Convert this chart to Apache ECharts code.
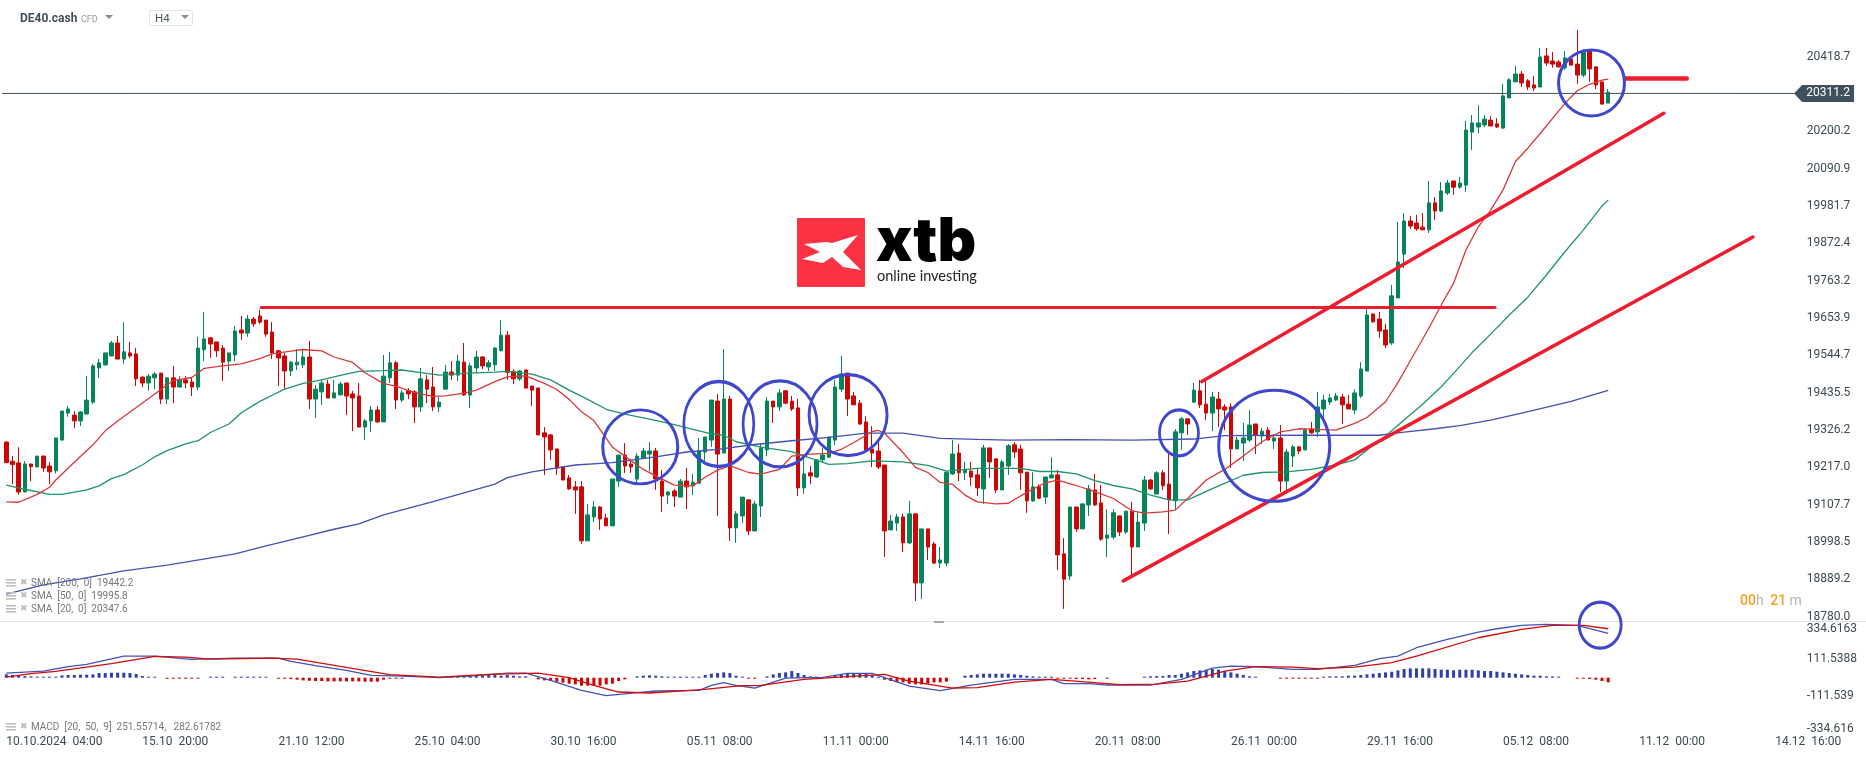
<!DOCTYPE html>
<html lang="en">
<head>
    <meta charset="UTF-8">
    <title>DE40.cash H4</title>
    <script src="https://cdn.jsdelivr.net/npm/echarts@6/dist/echarts.min.js"></script>
    <style>
        *{
            margin: 0;
            padding: 0;
        }
        .container{
            width: 1866px;
            height: 759px;
        }
    </style>
</head>
<body>
<div class="container"></div>
<script>
    // open, close, low, high for every H4 bar
    const ohlc=[
        [19291,19231,19231,19293],[19235,19225,19168,19250],[19230,19145,19137,19276],[19145,19227,19145,19235],[19227,19219,19177,19227],[19218,19250,19218,19250],
        [19250,19215,19204,19252],[19221,19204,19168,19233],[19207,19303,19199,19303],[19297,19382,19295,19382],[19376,19388,19365,19397],[19370,19353,19332,19382],
        [19353,19379,19338,19382],[19373,19414,19373,19484],[19408,19514,19402,19520],[19508,19523,19479,19534],[19517,19552,19514,19552],[19543,19581,19543,19587],
        [19581,19534,19534,19601],[19534,19555,19520,19642],[19552,19543,19537,19584],[19549,19476,19455,19566],[19481,19464,19452,19484],[19464,19484,19441,19490],
        [19479,19490,19446,19496],[19493,19417,19402,19493],[19417,19479,19402,19479],[19479,19452,19405,19514],[19452,19473,19452,19484],[19473,19464,19449,19484],
        [19467,19452,19426,19479],[19452,19566,19443,19599],[19561,19593,19528,19672],[19596,19578,19537,19599],[19584,19558,19540,19584],[19566,19525,19470,19575],
        [19528,19552,19499,19552],[19546,19616,19528,19631],[19619,19610,19590,19660],[19610,19651,19599,19663],[19651,19637,19628,19657],[19660,19642,19637,19678],
        [19648,19607,19599,19648],[19613,19552,19534,19642],[19558,19537,19455,19561],[19543,19499,19446,19552],[19499,19525,19484,19528],[19517,19525,19502,19563],
        [19517,19540,19508,19563],[19540,19417,19388,19587],[19417,19446,19362,19458],[19438,19464,19400,19473],[19461,19420,19420,19473],[19420,19435,19420,19473],
        [19429,19461,19429,19467],[19464,19426,19370,19464],[19432,19420,19323,19441],[19426,19335,19335,19464],[19335,19353,19297,19359],[19353,19385,19321,19397],
        [19385,19350,19347,19397],[19350,19484,19350,19546],[19479,19523,19464,19555],[19523,19414,19388,19528],[19414,19435,19408,19443],[19441,19432,19417,19449],
        [19438,19394,19347,19443],[19394,19476,19379,19508],[19473,19446,19405,19487],[19452,19394,19382,19511],[19394,19408,19379,19423],[19446,19496,19446,19517],
        [19496,19487,19473,19528],[19487,19528,19470,19546],[19525,19429,19426,19581],[19429,19514,19391,19523],[19508,19540,19493,19558],[19540,19514,19505,19543],
        [19511,19523,19499,19531],[19517,19566,19499,19569],[19558,19604,19558,19648],[19604,19495,19473,19616],[19498,19476,19461,19504],[19476,19499,19470,19502],
        [19502,19449,19449,19502],[19455,19443,19397,19455],[19449,19312,19312,19451],[19318,19306,19195,19335],[19312,19268,19239,19315],[19271,19215,19195,19271],
        [19218,19180,19180,19221],[19186,19154,19151,19195],[19160,19151,19081,19177],[19160,19002,18993,19177],[19002,19078,19002,19110],[19072,19101,19057,19119],
        [19101,19066,19034,19104],[19069,19046,19046,19081],[19046,19183,19046,19183],[19177,19253,19160,19253],[19253,19221,19201,19288],[19227,19218,19201,19236],
        [19183,19250,19171,19259],[19244,19265,19242,19274],[19256,19265,19206,19291],[19265,19183,19151,19274],[19177,19133,19086,19209],[19136,19145,19110,19148],
        [19148,19133,19101,19154],[19130,19177,19130,19183],[19177,19160,19095,19215],[19163,19174,19136,19198],[19171,19265,19168,19303],[19262,19306,19236,19306],
        [19297,19414,19277,19414],[19411,19256,19075,19432],[19259,19417,19259,19563],[19417,19040,19002,19426],[19040,19081,18996,19089],[19075,19130,19054,19130],
        [19122,19031,19019,19122],[19031,19110,19031,19119],[19104,19274,19072,19288],[19268,19411,19250,19423],[19411,19394,19347,19411],[19394,19435,19382,19446],
        [19441,19405,19402,19443],[19411,19388,19382,19426],[19391,19157,19133,19417],[19157,19198,19139,19244],[19201,19192,19168,19221],[19189,19239,19186,19239],
        [19239,19253,19230,19274],[19247,19306,19244,19306],[19297,19452,19283,19473],[19446,19490,19438,19543],[19493,19417,19367,19493],[19426,19400,19400,19438],
        [19405,19344,19341,19414],[19350,19268,19265,19367],[19271,19259,19218,19338],[19265,19218,19212,19291],[19224,19031,18955,19224],[19034,19060,19034,19078],
        [19054,19072,19031,19081],[19072,18996,18969,19081],[18996,19081,18993,19119],[19081,18879,18826,19081],[18879,19037,18832,19037],[19037,18984,18946,19037],
        [18993,18937,18934,18999],[18937,18946,18923,18984],[18937,19203,18928,19203],[19198,19256,19195,19297],[19259,19201,19177,19285],[19201,19209,19180,19233],
        [19206,19189,19163,19233],[19195,19157,19133,19215],[19154,19274,19110,19283],[19274,19233,19186,19274],[19242,19151,19142,19242],[19151,19233,19151,19239],
        [19221,19280,19195,19285],[19283,19262,19244,19291],[19271,19201,19151,19283],[19203,19119,19084,19203],[19119,19160,19116,19203],[19160,19127,19124,19168],
        [19130,19189,19110,19189],[19186,19195,19186,19247],[19195,18961,18917,19209],[18964,18890,18803,19010],[18899,19101,18888,19101],[19101,19037,19028,19101],
        [19037,19110,19037,19113],[19107,19154,19075,19166],[19151,19107,19104,19198],[19113,19007,19002,19166],[19010,19019,18955,19095],[19013,19084,19007,19095],
        [19075,19028,19016,19075],[19028,19089,19022,19089],[19089,18984,18902,19116],[18984,19057,18984,19086],[19054,19180,19031,19192],[19180,19154,19151,19183],
        [19139,19201,19139,19206],[19201,19163,19151,19209],[19168,19122,19022,19256],[19119,19321,19092,19329],[19318,19359,19268,19364],[19359,19344,19312,19359],
        [19408,19443,19405,19464],[19441,19400,19391,19473],[19402,19376,19356,19473],[19376,19423,19323,19438],[19417,19388,19335,19438],[19394,19385,19326,19402],
        [19394,19271,19215,19405],[19271,19297,19271,19306],[19288,19303,19236,19347],[19297,19341,19291,19385],[19344,19312,19256,19344],[19309,19323,19285,19332],
        [19326,19297,19297,19335],[19294,19303,19271,19315],[19303,19177,19145,19341],[19177,19262,19148,19271],[19250,19277,19218,19283],[19277,19265,19256,19280],
        [19268,19326,19268,19332],[19329,19318,19315,19350],[19321,19394,19306,19438],[19388,19414,19362,19429],[19408,19420,19400,19432],[19414,19426,19411,19435],
        [19423,19400,19344,19432],[19402,19388,19388,19429],[19385,19435,19373,19446],[19426,19505,19420,19525],[19499,19663,19499,19681],[19666,19643,19640,19666],
        [19651,19616,19596,19672],[19619,19575,19566,19637],[19581,19719,19575,19751],[19713,19818,19713,19935],[19841,19938,19800,19961],[19938,19923,19915,19953],
        [19932,19915,19909,19956],[19920,19912,19912,19961],[19912,19991,19903,20055],[19991,19967,19941,20008],[19967,20026,19964,20052],[20020,20049,20014,20058],
        [20055,20037,20014,20055],[20037,20049,20032,20067],[20043,20204,20023,20231],[20198,20225,20146,20248],[20213,20225,20195,20277],[20219,20236,20213,20248],
        [20233,20216,20216,20245],[20222,20213,20210,20239],[20210,20304,20207,20339],[20298,20351,20298,20356],[20345,20368,20345,20392],[20368,20342,20330,20377],
        [20348,20330,20321,20353],[20336,20327,20318,20362],[20330,20418,20330,20444],[20421,20400,20392,20444],[20406,20397,20386,20432],[20403,20389,20386,20409],
        [20386,20415,20380,20435],[20412,20394,20394,20412],[20397,20365,20339,20497],[20365,20432,20359,20441],[20435,20383,20345,20435],[20389,20336,20324,20389],
        [20345,20280,20280,20345],[20283,20315,20283,20324]
    ]

    // moving averages, [bar number, price]
    const sma20=[[0,19116],[2,19115],[5,19138],[7,19159],[8,19180],[11,19232],[14,19283],[16,19324],[18,19353],[21,19392],[24,19432],[27,19471],[30,19480],[32,19507],[35,19514],[38,19520],[41,19535],[43,19549],[46,19557],[48,19562],[51,19558],[53,19540],[56,19524],[58,19494],[61,19462],[63,19455],[66,19436],[69,19425],[71,19426],[74,19434],[76,19443],[79,19468],[81,19482],[84,19485],[87,19463],[89,19445],[91,19416],[93,19380],[95,19354],[98,19276],[100,19250],[103,19211],[105,19192],[108,19165],[111,19163],[113,19188],[115,19209],[117,19222],[120,19202],[122,19197],[125,19211],[127,19250],[130,19256],[133,19258],[135,19270],[137,19289],[140,19322],[141,19325],[142,19317],[145,19260],[147,19217],[149,19202],[151,19173],[153,19167],[155,19136],[157,19116],[160,19110],[162,19112],[165,19144],[168,19172],[170,19180],[173,19164],[176,19146],[179,19126],[182,19090],[184,19083],[187,19087],[189,19092],[191,19126],[194,19180],[197,19211],[200,19250],[203,19292],[206,19321],[209,19330],[212,19328],[215,19326],[218,19346],[220,19363],[223,19409],[225,19465],[227,19529],[230,19624],[232,19692],[234,19756],[236,19853],[238,19921],[240,19970],[242,20029],[244,20112],[246,20151],[248,20194],[250,20238],[252,20282],[254,20319],[256,20338],[258,20350],[259,20353]]
    const sma50=[[0,19165],[3,19153],[7,19138],[9,19138],[13,19151],[15,19163],[17,19184],[19,19196],[22,19224],[24,19248],[26,19266],[29,19286],[31,19295],[33,19319],[36,19344],[38,19377],[41,19410],[43,19428],[45,19446],[48,19463],[51,19473],[54,19486],[57,19498],[61,19500],[64,19502],[67,19494],[70,19487],[74,19492],[79,19496],[81,19498],[85,19490],[88,19473],[91,19443],[94,19416],[97,19387],[100,19373],[104,19358],[108,19342],[111,19328],[114,19315],[116,19311],[118,19292],[122,19276],[127,19263],[130,19244],[133,19226],[136,19228],[140,19236],[145,19233],[149,19223],[152,19206],[157,19214],[160,19214],[164,19214],[167,19205],[170,19205],[173,19198],[176,19178],[179,19164],[182,19154],[185,19136],[188,19122],[191,19122],[195,19155],[200,19194],[203,19202],[207,19204],[211,19211],[215,19224],[218,19239],[220,19268],[223,19309],[226,19356],[229,19402],[232,19453],[234,19492],[237,19553],[240,19607],[243,19663],[246,19715],[249,19780],[252,19848],[255,19912],[258,19982],[259,19999]]
    const sma200=[[0,18846],[6,18873],[12,18891],[19,18914],[26,18931],[37,18964],[42,18987],[48,19014],[53,19036],[57,19052],[61,19078],[69,19117],[79,19168],[81,19187],[85,19204],[92,19224],[98,19231],[105,19248],[110,19262],[115,19270],[121,19284],[127,19295],[133,19305],[139,19317],[145,19317],[151,19302],[157,19299],[162,19297],[172,19298],[182,19297],[192,19300],[197,19310],[210,19311],[222,19311],[226,19320],[231,19330],[235,19339],[240,19355],[245,19376],[253,19410],[259,19442]]

    const macdLine=[[0,28],[3,34],[6,40],[10,66],[13,80],[19,130],[24,130],[30,110],[37,118],[44,118],[46,98],[50,72],[55,44],[59,14],[64,10],[70,0],[76,12],[81,28],[84,28],[88,-16],[93,-76],[97,-108],[102,-90],[105,-80],[112,-76],[114,-46],[116,-30],[118,-46],[121,-62],[126,-2],[132,2],[136,26],[140,26],[146,-50],[151,-78],[156,-44],[163,-10],[169,-10],[171,-36],[175,-36],[178,-44],[185,-44],[190,-10],[195,58],[198,70],[202,66],[208,50],[212,50],[218,74],[222,114],[225,130],[228,180],[233,230],[238,274],[241,294],[245,314],[249,320],[254,314],[259,266]]
    const macdSignal=[[0,4],[4,24],[8,38],[17,84],[24,128],[29,124],[33,112],[43,118],[47,112],[54,68],[62,18],[70,4],[78,20],[86,28],[91,0],[95,-46],[99,-86],[104,-92],[113,-70],[118,-50],[122,-46],[129,-10],[136,6],[142,20],[146,-20],[153,-62],[157,-60],[163,-26],[169,-10],[176,-30],[180,-42],[186,-38],[191,-20],[197,40],[202,66],[208,64],[212,54],[218,64],[224,90],[228,130],[238,240],[245,290],[250,314],[255,314],[259,294]]
    const macdHist=[
        20,16,12,10,8,6,6,6,6,14,16,16,18,18,20,28,28,30,30,30,28,22,10,4,2,null,
        -2,-2,-2,-2,-6,-2,null,2,2,2,null,2,2,2,2,2,2,null,
        -4,-6,-8,-12,-16,-18,-20,-20,-22,-22,-22,-22,-22,-22,-24,-24,-24,-12,-6,-4,-4,
        null,null,null,null,null,null,null,
        8,8,8,12,12,12,16,16,12,16,12,8,8,null,
        -10,-16,-20,-24,-30,-36,-40,-48,-48,-48,-48,-40,-36,-20,-10,null,
        8,12,14,12,8,6,6,6,6,6,6,
        16,24,28,32,28,12,6,-6,-4,null,
        8,20,28,32,40,28,16,8,2,null,
        6,12,20,24,24,28,24,16,4,
        -12,-20,-28,-28,-36,-40,-40,-36,-28,-28,-24,null,null,
        12,16,20,24,24,24,24,24,20,16,12,8,6,4,2,
        -2,-4,-4,-8,-8,-10,-8,null,-6,null,null,null,null,null,
        4,8,10,10,16,16,24,32,40,44,48,52,48,40,32,24,16,8,4,
        null,null,null,-4,-4,-4,-4,-4,-4,-4,
        4,8,8,8,12,12,16,20,24,28,32,36,44,52,
        56,56,56,56,52,48,48,44,48,48,48,44,40,40,36,32,28,24,20,16,12,12,8,8,6,
        null,null,-4,-6,-8,-12,-20,-28
    ]

    const lastPrice=20311.2
    const priceTicks=[20418.7,20200.2,20090.9,19981.7,19872.4,19763.2,19653.9,19544.7,19435.5,19326.2,19217.0,19107.7,18998.5,18889.2,18780.0]
    const macdTicks=[334.6163,111.5388,-111.5388,-334.6163]
    const macdTickText=['{top|334.6163}','111.5388','-111.539','{bottom|-334.616}']
    const timeLabels=['10.10.2024  04:00','15.10  20:00','21.10  12:00','25.10  04:00','30.10  16:00','05.11  08:00','11.11  00:00','14.11  16:00','20.11  08:00','26.11  00:00','29.11  16:00','05.12  08:00','11.12  00:00','14.12  16:00']

    // drawn by hand on the chart, in [bar number, price]
    const resistance=[[41.2,19685],[240.7,19685]]
    const channelUpper=[[193.3,19468],[268,20253]]
    const channelLower=[[180.6,18885],[282.4,19891]]
    const shortMark=[[261.7,20355],[271.7,20355]]
    const circles=[[102.5,19277],[115.2,19344],[125.1,19344],[136.1,19370],[189.6,19318],[205,19280],[256.3,20342]]
    const circleSizes=[[75,74],[70,85],[74,86],[78,81],[39,46],[111,111],[66,66]]
    const macdCircle=[[257.7,316]]

    const totalBars=300
    const categories=[]
    for(let i=0;i<totalBars;i++){
        categories.push(i%22==0 && timeLabels[i/22] ? timeLabels[i/22] : '')
    }

    const GREEN='#05845a', RED='#cd0505', BLUE='#3f48cc', MARK='#ed1c2e', SLATE='#3f515e', TEXT='#3c4a52'

    function hand(data,width){
        return {
            type:'line', xAxisIndex:1, yAxisIndex:0, data, symbol:'none', silent:true, z:6,
            lineStyle:{color:MARK,width,cap:'round'}
        }
    }
    function sma(data,color){
        return {
            type:'line', xAxisIndex:1, yAxisIndex:0, data, symbol:'none', silent:true, z:4,
            lineStyle:{color,width:1.3}
        }
    }
    function sub(data,color){
        return {
            type:'line', xAxisIndex:3, yAxisIndex:1, data, symbol:'none', silent:true, z:4,
            lineStyle:{color,width:1.3}
        }
    }

    function legendRow(y,label){
        const lines=[0,3,6].map(d=>({
            type:'rect', shape:{x:6,y:y-4+d,width:10,height:1.6}, style:{fill:'#bdbdbd'}, z:20
        }))
        return lines.concat([
            {type:'text', x:20, y:y, style:{text:'✖', font:'9px "DejaVu Sans"', fill:'#bdbdbd', verticalAlign:'middle'}, z:20},
            {type:'text', x:31, y:y, style:{text:label, font:'10px Roboto', fill:'#777', verticalAlign:'middle'}, z:20}
        ])
    }

    const overlay=[
        // header
        {type:'text', x:20, y:19, style:{text:'DE40.cash', font:'bold 12px Roboto', fill:'#3f4f5a', verticalAlign:'middle'}},
        {type:'text', x:81, y:19.5, style:{text:'CFD', font:'9px Roboto', fill:'#9a9a9a', verticalAlign:'middle'}},
        {type:'polygon', shape:{points:[[105,15],[113,15],[109,19]]}, style:{fill:'#8e8e8e'}},
        {type:'rect', shape:{x:149.5,y:10.5,width:43,height:15,r:1}, style:{fill:'#fff',stroke:'#e2e2e2'}},
        {type:'text', x:155, y:19, style:{text:'H4', font:'11.5px Roboto', fill:'#4a5860', verticalAlign:'middle'}},
        {type:'polygon', shape:{points:[[181,15],[189,15],[185,19]]}, style:{fill:'#8e8e8e'}},
        // logo
        {type:'rect', shape:{x:797,y:218,width:68,height:69,r:1}, style:{fill:'#fb3243'}},
        {type:'polygon', shape:{points:[[804,244],[827,242],[832,243],[858,235],[843,252],[861,270],[843,267],[832,257],[823,263],[802,259],[820,252]]}, style:{fill:'#fff'}},
        {type:'text', x:876, y:243, style:{text:'xtb', font:'900 60px Inter', fill:'#000', verticalAlign:'middle'}},
        {type:'text', x:877, y:276, style:{text:'online investing', font:'14.5px Lato', fill:'#222', verticalAlign:'middle'}},
        // panel separator with its drag handle
        {type:'line', shape:{x1:0,y1:621.5,x2:1866,y2:621.5}, style:{stroke:'#dfdfdf',lineWidth:1}},
        {type:'rect', shape:{x:934,y:621,width:10,height:2}, style:{fill:'#a9a9a9'}},
        // time to bar close
        {type:'text', x:1740, y:601, style:{
            text:'{o|00}{g|h}  {o|21} {g|m}', verticalAlign:'middle',
            rich:{o:{font:'500 14px Roboto',fill:'#f7a01e'},g:{font:'14px Roboto',fill:'#b5b5b5'}}
        }}
    ].concat(
        legendRow(583,'SMA  [200,  0]  19442.2'),
        legendRow(596,'SMA  [50,  0]  19995.8'),
        legendRow(609,'SMA  [20,  0]  20347.6'),
        legendRow(727,'MACD  [20,  50,  9]  251.55714,   282.61782')
    )

    const grids=[
        {left:3.2,right:7.3,top:0,height:622},
        {left:3.2,right:7.3,top:622,height:111.4}
    ]
    const barRange={min:-0.5,max:totalBars-0.5}
    const axisFont={color:TEXT,fontSize:12,fontFamily:'Roboto'}

    const chart=echarts.init(document.querySelector('.container'))
    chart.setOption({
        animation:false,
        backgroundColor:'#fff',
        textStyle:{fontFamily:'Roboto'},
        grid:grids,
        xAxis:[
            {type:'category',gridIndex:0,data:categories,axisLine:{show:false},axisTick:{show:false},axisLabel:{show:false},splitLine:{show:false}},
            {type:'value',gridIndex:0,...barRange,show:false},
            {
                type:'category',gridIndex:1,data:categories,
                axisLine:{show:false},axisTick:{show:false},splitLine:{show:false},
                axisLabel:{interval:i=>i%22==0, margin:3, align:'left', hideOverlap:false, ...axisFont}
            },
            {type:'value',gridIndex:1,...barRange,show:false}
        ],
        yAxis:[
            {
                type:'value',gridIndex:0,position:'right',min:18764.6,max:20584.6,
                axisLine:{show:false},axisTick:{show:false},splitLine:{show:false},
                axisLabel:{
                    customValues:priceTicks, inside:true, margin:52, align:'left', ...axisFont,
                    formatter:v=>v.toFixed(1)
                }
            },
            {
                type:'value',gridIndex:1,position:'right',min:-334.6163,max:334.6163,
                axisLine:{show:false},axisTick:{show:false},splitLine:{show:false},
                axisLabel:{
                    customValues:macdTicks, inside:true, margin:52, align:'left', ...axisFont,
                    formatter:v=>macdTickText[macdTicks.indexOf(v)],
                    // the outer two labels are pushed inside the panel
                    rich:{
                        top:{...axisFont,padding:[13,0,0,0]},
                        bottom:{...axisFont,padding:[0,0,9,0]}
                    }
                }
            }
        ],
        series:[
            {
                type:'candlestick', xAxisIndex:0, yAxisIndex:0, data:ohlc, barWidth:4, silent:true, z:3,
                itemStyle:{color:GREEN,color0:RED,borderColor:GREEN,borderColor0:RED,borderWidth:1}
            },
            sma(sma200,'#4450b4'),
            sma(sma50,'#1f9468'),
            sma(sma20,'#d8383a'),
            hand(resistance,3),
            hand(channelUpper,3.5),
            hand(channelLower,3.5),
            hand(shortMark,4.5),
            {
                type:'line', xAxisIndex:1, yAxisIndex:0, data:[[-1.03,lastPrice],[289.2,lastPrice]],
                symbol:'none', silent:true, clip:false, z:5, lineStyle:{color:SLATE,width:1}
            },
            {
                type:'scatter', xAxisIndex:1, yAxisIndex:0, data:[[293.9,lastPrice]], silent:true, clip:false, z:7,
                symbol:'path://M0,8.5 L8,0 L60,0 L60,17 L8,17 Z', symbolSize:[60,17], symbolKeepAspect:false,
                itemStyle:{color:SLATE,opacity:1},
                label:{
                    show:true, position:'inside', offset:[4,0], color:'#fff', fontSize:12, fontFamily:'Roboto',
                    formatter:p=>p.value[1].toFixed(1)
                }
            },
            {
                type:'scatter', xAxisIndex:1, yAxisIndex:0, data:circles, silent:true, z:8,
                symbol:'circle',
                symbolSize:(v,p)=>circleSizes[p.dataIndex],
                itemStyle:{color:'rgba(0,0,0,0)',borderColor:BLUE,borderWidth:3,opacity:1}
            },
            {
                type:'bar', xAxisIndex:2, yAxisIndex:1, data:macdHist, barWidth:3, barMinHeight:1, silent:true, z:3,
                itemStyle:{color:p=>p.value<0?RED:'#2f3fa6'}
            },
            sub(macdLine,'#4451b5'),
            sub(macdSignal,'#d20a0a'),
            {
                type:'scatter', xAxisIndex:3, yAxisIndex:1, data:macdCircle, silent:true, clip:false, z:8,
                symbol:'circle', symbolSize:[42,46],
                itemStyle:{color:'rgba(0,0,0,0)',borderColor:BLUE,borderWidth:3,opacity:1}
            }
        ],
        graphic:{elements:overlay}
    })
</script>
</body>
</html>
